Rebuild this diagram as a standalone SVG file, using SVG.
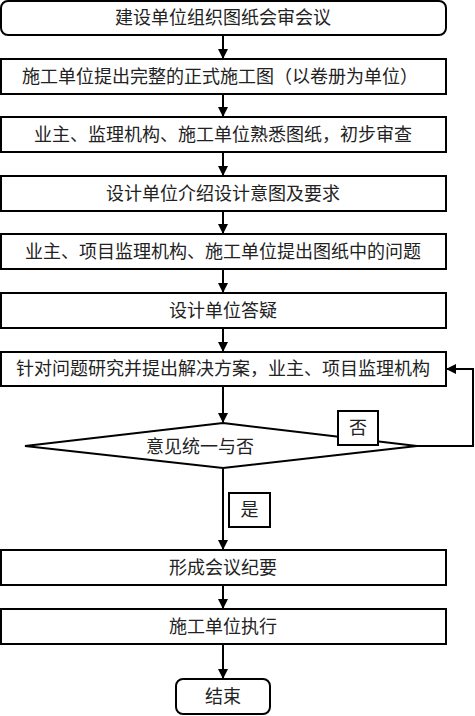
<svg xmlns="http://www.w3.org/2000/svg" width="475" height="716" viewBox="0 0 475 716">
<style>
.box{fill:#fff;stroke:#000;stroke-width:2}
.t{font-family:"Liberation Serif","Noto Sans CJK SC",serif;font-size:18px;fill:#222;text-anchor:middle;dominant-baseline:central}
.c{fill:none;stroke:#000;stroke-width:2}
</style>
<defs>
<marker id="ah" markerWidth="10" markerHeight="10" refX="9" refY="5" orient="auto" markerUnits="userSpaceOnUse">
<path d="M0,0 L10,5 L0,10 Z" fill="#000"/>
</marker>
</defs>
<rect width="475" height="716" fill="#fff"/>
<g id="connectors">
<line class="c" x1="223" y1="36" x2="223" y2="58" marker-end="url(#ah)"/>
<line class="c" x1="223" y1="95" x2="223" y2="116" marker-end="url(#ah)"/>
<line class="c" x1="223" y1="153" x2="223" y2="175" marker-end="url(#ah)"/>
<line class="c" x1="223" y1="212" x2="223" y2="233" marker-end="url(#ah)"/>
<line class="c" x1="223" y1="270" x2="223" y2="292" marker-end="url(#ah)"/>
<line class="c" x1="223" y1="329" x2="223" y2="351" marker-end="url(#ah)"/>
<line class="c" x1="223" y1="387" x2="223" y2="422" marker-end="url(#ah)"/>
<line class="c" x1="223" y1="469" x2="223" y2="549" marker-end="url(#ah)"/>
<line class="c" x1="223" y1="586" x2="223" y2="608" marker-end="url(#ah)"/>
<line class="c" x1="223" y1="645" x2="223" y2="678" marker-end="url(#ah)"/>
<polyline class="c" points="417,446 473,446 473,369 447,369" marker-end="url(#ah)"/>
</g>
<g id="n1"><rect class="box" x="1" y="1" width="445" height="34" rx="7"/><text class="t" x="223" y="18">建设单位组织图纸会审会议</text></g>
<g id="n2"><rect class="box" x="1" y="59" width="445" height="35"/><text class="t" x="220" y="76.5">施工单位提出完整的正式施工图（以卷册为单位）</text></g>
<g id="n3"><rect class="box" x="1" y="117" width="445" height="35"/><text class="t" x="223" y="134.5">业主、监理机构、施工单位熟悉图纸，初步审查</text></g>
<g id="n4"><rect class="box" x="1" y="176" width="445" height="35"/><text class="t" x="223" y="193.5">设计单位介绍设计意图及要求</text></g>
<g id="n5"><rect class="box" x="1" y="234" width="445" height="35"/><text class="t" x="223" y="251.5">业主、项目监理机构、施工单位提出图纸中的问题</text></g>
<g id="n6"><rect class="box" x="1" y="293" width="445" height="35"/><text class="t" x="223" y="310.5">设计单位答疑</text></g>
<g id="n7"><rect class="box" x="1" y="352" width="445" height="34"/><text class="t" x="223" y="369">针对问题研究并提出解决方案，业主、项目监理机构</text></g>
<g id="n8"><polygon class="box" points="223,423 417,446 223,468 25,446"/><text class="t" x="200" y="447">意见统一与否</text></g>
<g id="lbl-no"><rect class="box" x="338" y="411" width="40" height="34"/><text class="t" x="358" y="428">否</text></g>
<g id="lbl-yes"><rect class="box" x="229" y="493" width="41" height="34"/><text class="t" x="249.5" y="510">是</text></g>
<g id="n9"><rect class="box" x="1" y="550" width="445" height="35"/><text class="t" x="223" y="567.5">形成会议纪要</text></g>
<g id="n10"><rect class="box" x="1" y="609" width="445" height="35"/><text class="t" x="223" y="626.5">施工单位执行</text></g>
<g id="n11"><rect class="box" x="176" y="679" width="94" height="35" rx="7"/><text class="t" x="223" y="696.5">结束</text></g>
</svg>
